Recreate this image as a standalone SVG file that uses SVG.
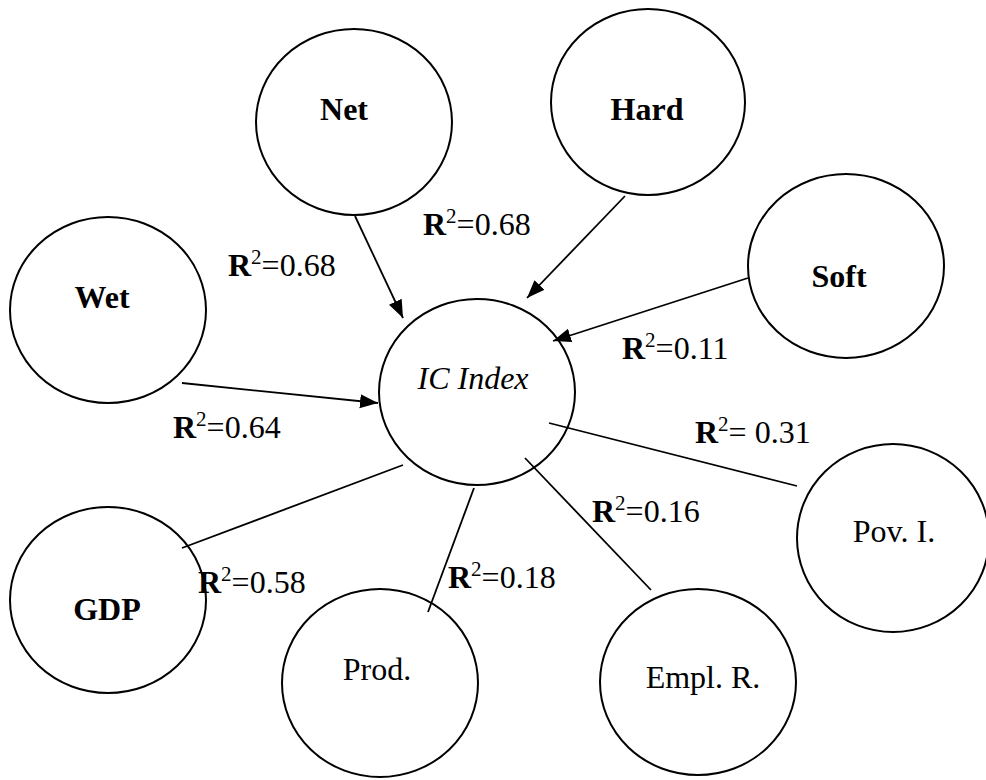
<svg xmlns="http://www.w3.org/2000/svg" width="986" height="780" viewBox="0 0 986 780">
<style>
.n{fill:#fff;stroke:#000;stroke-width:2}
.t{font-family:"Liberation Serif","Times New Roman",serif;font-size:32px;fill:#000;text-anchor:middle}
.b{font-weight:bold}
.i{font-style:italic}
.l{font-family:"Liberation Serif","Times New Roman",serif;font-size:32px;fill:#000}
.s{font-size:21px}
.c{stroke:#000;stroke-width:1.8;fill:none}
</style>
<defs>
<marker id="ah" markerUnits="userSpaceOnUse" markerWidth="20" markerHeight="16" refX="18" refY="7" orient="auto">
<path d="M0,0 L18,7 L0,14 z" fill="#000"/>
</marker>
</defs>
<rect width="986" height="780" fill="#fff"/>
<g id="node-net"><ellipse class="n" cx="354" cy="122" rx="98" ry="93"/><text class="t b" x="344" y="120">Net</text></g>
<g id="node-hard"><ellipse class="n" cx="648" cy="102" rx="97" ry="93"/><text class="t b" x="647" y="120">Hard</text></g>
<g id="node-wet"><ellipse class="n" cx="108" cy="310" rx="98" ry="93"/><text class="t b" x="102" y="308">Wet</text></g>
<g id="node-soft"><ellipse class="n" cx="846" cy="266" rx="98" ry="92"/><text class="t b" x="839" y="287">Soft</text></g>
<g id="node-ic"><ellipse class="n" cx="477" cy="392" rx="98" ry="93"/><text class="t i" x="473" y="389">IC Index</text></g>
<g id="node-gdp"><ellipse class="n" cx="108" cy="600" rx="98" ry="93"/><text class="t b" x="107" y="620">GDP</text></g>
<g id="node-prod"><ellipse class="n" cx="380" cy="683" rx="98" ry="94"/><text class="t" x="377" y="680">Prod.</text></g>
<g id="node-empl"><ellipse class="n" cx="698" cy="682" rx="98" ry="93"/><text class="t" x="703" y="688">Empl. R.</text></g>
<g id="node-pov"><ellipse class="n" cx="893" cy="538" rx="96" ry="94"/><text class="t" x="894" y="542">Pov. I.</text></g>
<g id="connectors">
<line class="c" x1="355" y1="216" x2="403" y2="318" marker-end="url(#ah)"/>
<line class="c" x1="625" y1="196" x2="527" y2="298" marker-end="url(#ah)"/>
<line class="c" x1="748" y1="278" x2="553" y2="341" marker-end="url(#ah)"/>
<line class="c" x1="182" y1="383" x2="378" y2="403" marker-end="url(#ah)"/>
<line class="c" x1="549" y1="423" x2="797" y2="486"/>
<line class="c" x1="182" y1="548" x2="403" y2="465"/>
<line class="c" x1="428" y1="612" x2="474" y2="488"/>
<line class="c" x1="525" y1="458" x2="651" y2="590"/>
</g>
<g id="labels">
<text class="l" x="423" y="235"><tspan class="b">R</tspan><tspan class="s" dy="-12">2</tspan><tspan dy="12">=0.68</tspan></text>
<text class="l" x="228" y="276"><tspan class="b">R</tspan><tspan class="s" dy="-12">2</tspan><tspan dy="12">=0.68</tspan></text>
<text class="l" x="173" y="438"><tspan class="b">R</tspan><tspan class="s" dy="-12">2</tspan><tspan dy="12">=0.64</tspan></text>
<text class="l" x="622" y="359"><tspan class="b">R</tspan><tspan class="s" dy="-12">2</tspan><tspan dy="12">=0.11</tspan></text>
<text class="l" x="695" y="443" xml:space="preserve"><tspan class="b">R</tspan><tspan class="s" dy="-12">2</tspan><tspan dy="12">= 0.31</tspan></text>
<text class="l" x="592" y="522"><tspan class="b">R</tspan><tspan class="s" dy="-12">2</tspan><tspan dy="12">=0.16</tspan></text>
<text class="l" x="198" y="593"><tspan class="b">R</tspan><tspan class="s" dy="-12">2</tspan><tspan dy="12">=0.58</tspan></text>
<text class="l" x="448" y="588"><tspan class="b">R</tspan><tspan class="s" dy="-12">2</tspan><tspan dy="12">=0.18</tspan></text>
</g>
</svg>
